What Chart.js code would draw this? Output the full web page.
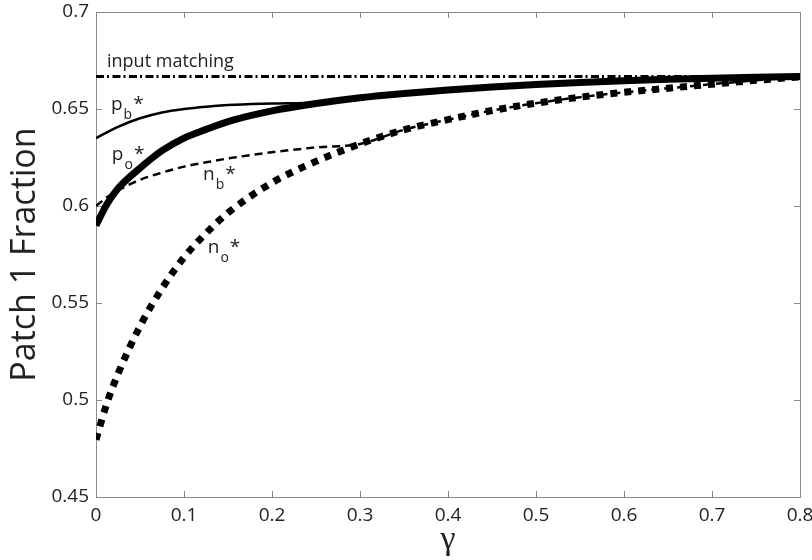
<!DOCTYPE html>
<html>
<head>
<meta charset="utf-8">
<script src="https://cdn.jsdelivr.net/npm/chart.js@4"></script>
<style>
  html, body { margin: 0; padding: 0; background: #fff; }
  #wrap { width: 812px; height: 560px; }
</style>
</head>
<body>
<div id="wrap"><canvas id="fracChart"></canvas></div>
<script>
// gamma grid shared by the curves
var gamma = [0, 0.0125, 0.025, 0.05, 0.075, 0.1, 0.125, 0.15, 0.2, 0.25, 0.3, 0.35, 0.4, 0.45, 0.5, 0.55, 0.6, 0.65, 0.7, 0.75, 0.8];
var pOpt  = [0.590, 0.601, 0.609, 0.6195, 0.6285, 0.635, 0.6395, 0.6435, 0.649, 0.6528, 0.6558, 0.658, 0.6598, 0.6613, 0.6626, 0.6637, 0.6646, 0.6653, 0.6659, 0.6664, 0.6667];
var pBest = [0.635, 0.638, 0.6408, 0.6452, 0.6482, 0.650, 0.6512, 0.652, 0.6528, 0.6534, 0.6558, 0.658, 0.6598, 0.6613, 0.6626, 0.6637, 0.6646, 0.6653, 0.6659, 0.6664, 0.6667];
var nBest = [0.600, 0.6045, 0.608, 0.6135, 0.6172, 0.6203, 0.6225, 0.6245, 0.6277, 0.6302, 0.632, 0.6393, 0.6445, 0.6492, 0.653, 0.6561, 0.6586, 0.6607, 0.6628, 0.6648, 0.6665];
var nOpt  = [0.4795, 0.4985, 0.5135, 0.538, 0.5575, 0.5735, 0.586, 0.5965, 0.612, 0.623, 0.632, 0.6393, 0.6445, 0.6492, 0.653, 0.6561, 0.6586, 0.6607, 0.6628, 0.6648, 0.6665];
var matchGamma = [0, 0.8];
var inputMatching = [0.6667, 0.6667];

var xTicks = [0, 0.1, 0.2, 0.3, 0.4, 0.5, 0.6, 0.7, 0.8];
var yTicks = [0.45, 0.5, 0.55, 0.6, 0.65, 0.7];

function pts(xs, ys) {
    return xs.map(function (x, i) { return { x: x, y: ys[i] }; });
}

var frame = {
    id: 'frame',
    beforeDatasetsDraw: function (chart) {
        var ctx = chart.ctx, a = chart.chartArea, sx = chart.scales.x, sy = chart.scales.y;
        ctx.save();
        ctx.strokeStyle = '#8a8a8a';
        ctx.lineWidth = 1;
        ctx.strokeRect(Math.round(a.left) + 0.5, Math.round(a.top) + 0.5, Math.round(a.right - a.left), Math.round(a.bottom - a.top));
        ctx.beginPath();
        xTicks.forEach(function (v) {
            var px = Math.round(sx.getPixelForValue(v)) + 0.5;
            ctx.moveTo(px, a.bottom); ctx.lineTo(px, a.bottom - 6);
            ctx.moveTo(px, a.top); ctx.lineTo(px, a.top + 6);
        });
        yTicks.forEach(function (v) {
            var py = Math.round(sy.getPixelForValue(v)) + 0.5;
            ctx.moveTo(a.left, py); ctx.lineTo(a.left + 6, py);
            ctx.moveTo(a.right, py); ctx.lineTo(a.right - 6, py);
        });
        ctx.stroke();
        ctx.restore();
    },
    afterDatasetsDraw: function (chart) {
        var ctx = chart.ctx, sx = chart.scales.x, sy = chart.scales.y;
        ctx.save();
        ctx.fillStyle = '#222';
        ctx.textBaseline = 'alphabetic';
        ctx.font = '18px "Open Sans"';
        ctx.fillText('input matching', sx.getPixelForValue(0.0125), sy.getPixelForValue(0.6716));

        function sym(main, sub, gx, gy) {
            var x = sx.getPixelForValue(gx), y = sy.getPixelForValue(gy);
            ctx.font = '19px "Open Sans"';
            ctx.fillText(main, x, y);
            var w = ctx.measureText(main).width;
            ctx.font = '14px "Open Sans"';
            ctx.fillText(sub, x + w + 1, y + 9);
            var w2 = ctx.measureText(sub).width;
            ctx.font = '19px "Open Sans"';
            ctx.fillText('*', x + w + w2 + 2, y);
        }
        sym('p', 'b', 0.017, 0.6495);
        sym('p', 'o', 0.018, 0.6237);
        sym('n', 'b', 0.1216, 0.6134);
        sym('n', 'o', 0.127, 0.5758);
        ctx.restore();
    }
};

var ctx = document.getElementById('fracChart').getContext('2d');
var fracChart = new Chart(ctx, {
    type: 'line',
    data: {
        datasets: [{
            label: 'input matching',
            data: pts(matchGamma, inputMatching),
            borderColor: '#000',
            borderWidth: 3,
            borderDash: [8, 3, 2, 3.5]
        }, {
            label: 'pb*',
            data: pts(gamma, pBest),
            borderColor: '#000',
            borderWidth: 2.5
        }, {
            label: 'nb*',
            data: pts(gamma, nBest),
            borderColor: '#000',
            borderWidth: 2.5,
            borderDash: [8, 5]
        }, {
            label: 'po*',
            data: pts(gamma, pOpt),
            borderColor: '#000',
            borderWidth: 7
        }, {
            label: 'no*',
            data: pts(gamma, nOpt),
            borderColor: '#000',
            borderWidth: 7,
            borderDash: [7, 7]
        }]
    },
    options: {
        responsive: true,
        maintainAspectRatio: false,
        animation: false,
        layout: { padding: { top: 12, right: 12, left: 0, bottom: 0 } },
        elements: {
            point: { radius: 0 },
            line: { cubicInterpolationMode: 'monotone', fill: false }
        },
        plugins: { legend: { display: false }, tooltip: { enabled: false } },
        scales: {
            x: {
                type: 'linear',
                min: 0,
                max: 0.8,
                afterFit: function (s) {
                    s.height = 63;
                    s.paddingLeft = 0;
                    s.paddingRight = 0;
                },
                afterBuildTicks: function (s) { s.ticks = xTicks.map(function (v) { return { value: v }; }); },
                grid: { display: false, drawTicks: false },
                border: { display: false },
                ticks: {
                    padding: 7,
                    color: '#222',
                    font: { family: 'Open Sans', size: 19 },
                    maxRotation: 0,
                    callback: function (v) { return String(Number(v.toFixed(2))); }
                },
                title: {
                    display: true,
                    text: 'γ',
                    color: '#222',
                    font: { family: 'Liberation Serif', size: 34 },
                    padding: { top: 0, bottom: 0 }
                }
            },
            y: {
                min: 0.45,
                max: 0.7,
                afterFit: function (s) {
                    s.width = 96;
                    s.paddingTop = 0;
                    s.paddingBottom = 0;
                },
                afterBuildTicks: function (s) { s.ticks = yTicks.map(function (v) { return { value: v }; }); },
                grid: { display: false, drawTicks: false },
                border: { display: false },
                ticks: {
                    padding: 7,
                    color: '#222',
                    font: { family: 'Open Sans', size: 19 },
                    callback: function (v) { return String(Number(v.toFixed(2))); }
                },
                title: {
                    display: true,
                    text: 'Patch 1 Fraction',
                    color: '#222',
                    font: { family: 'Open Sans', size: 34 },
                    padding: { top: 5, bottom: 0 }
                }
            }
        }
    },
    plugins: [frame]
});
</script>
</body>
</html>
